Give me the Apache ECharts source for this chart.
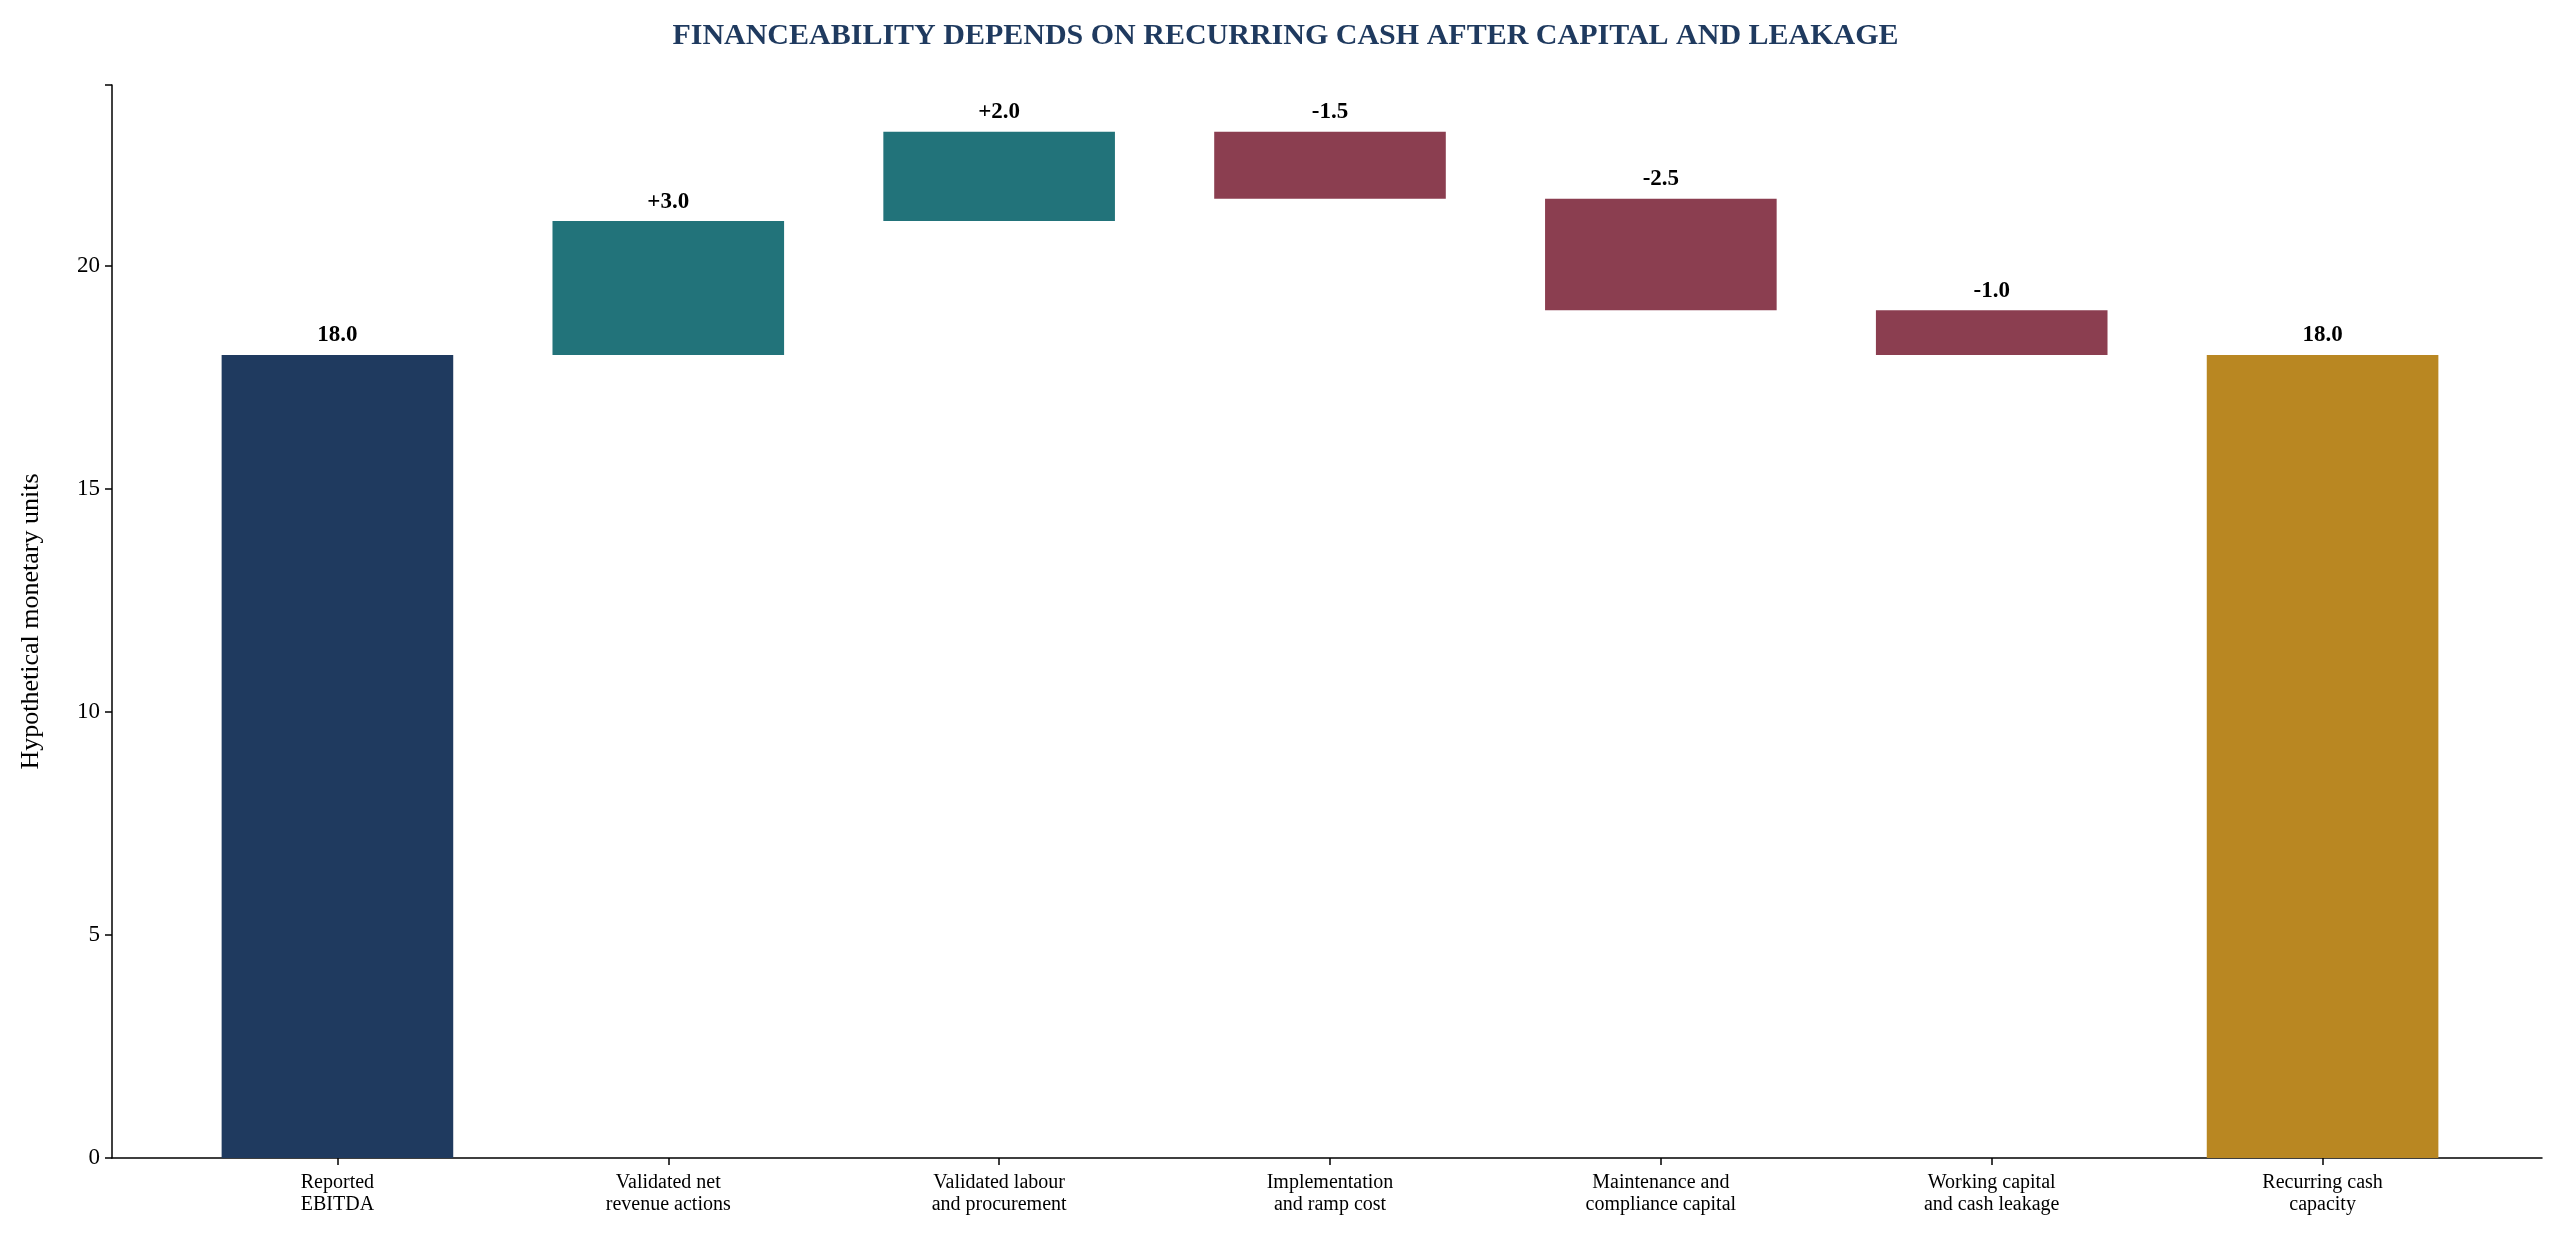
<!DOCTYPE html>
<html>
<head>
<meta charset="utf-8">
<script src="https://cdn.jsdelivr.net/npm/echarts@6/dist/echarts.min.js"></script>
<style>html,body{margin:0;padding:0;background:#fff}#main{width:2571px;height:1253px}</style>
</head>
<body>
<div id="main"></div>
<script>
var categories = ['Reported\nEBITDA', 'Validated net\nrevenue actions', 'Validated labour\nand procurement',
    'Implementation\nand ramp cost', 'Maintenance and\ncompliance capital', 'Working capital\nand cash leakage',
    'Recurring cash\ncapacity'];
var changes = [18, 3, 2, -1.5, -2.5, -1, 18];
var kinds = ['total', 'step', 'step', 'step', 'step', 'step', 'end'];
var colors = {total: '#1f3a5f', up: '#22737a', down: '#8b3e50', end: '#b98722'};

// build invisible base + visible bar
var base = [], bars = [], running = 0;
for (var i = 0; i < changes.length; i++) {
    var v = changes[i], k = kinds[i];
    var col, label;
    if (k === 'step') {
        var lo = v >= 0 ? running : running + v;
        base.push(lo);
        col = v >= 0 ? colors.up : colors.down;
        label = (v >= 0 ? '+' : '') + v.toFixed(1);
        running += v;
    } else {
        base.push(0);
        col = colors[k];
        label = v.toFixed(1);
        running = v;
    }
    bars.push({value: Math.abs(v), itemStyle: {color: col}, label: {formatter: label}});
}

var yMax = 24.05;
var chart = echarts.init(document.getElementById('main'));
chart.setOption({
    textStyle: {fontFamily: 'Liberation Serif'},
    title: {
        text: 'FINANCEABILITY DEPENDS ON RECURRING CASH AFTER CAPITAL AND LEAKAGE',
        left: 'center', top: 16,
        textStyle: {fontFamily: 'Liberation Serif', fontSize: 30, fontWeight: 'bold', color: '#1f3a5f'}
    },
    grid: [
        {left: 112, right: 29, top: 85, bottom: 95},   // axes frame
        {left: 172, right: 83, top: 85, bottom: 95}    // bars
    ],
    xAxis: [
        {type: 'value', gridIndex: 0, min: 0, max: 1,
            axisLine: {show: true, onZero: false, lineStyle: {color: '#000', width: 1.5}},
            axisTick: {show: false}, axisLabel: {show: false}, splitLine: {show: false}},
        {type: 'category', gridIndex: 1, data: categories,
            axisLine: {show: false},
            axisTick: {show: true, alignWithLabel: true, length: 7, lineStyle: {color: '#000', width: 1.5}},
            axisLabel: {color: '#000', fontSize: 20, lineHeight: 22, margin: 14, fontFamily: 'Liberation Serif'}}
    ],
    yAxis: [
        {type: 'value', gridIndex: 0, min: 0, max: yMax, interval: 5,
            name: 'Hypothetical monetary units', nameLocation: 'middle', nameGap: 68,
            nameTextStyle: {fontSize: 26, color: '#000', fontFamily: 'Liberation Serif'},
            splitLine: {show: false},
            axisLine: {show: true, lineStyle: {color: '#000', width: 1.5}},
            axisTick: {show: true, length: 7, lineStyle: {color: '#000', width: 1.5}},
            axisLabel: {color: '#000', fontSize: 23, margin: 12, fontFamily: 'Liberation Serif',
                formatter: function (v) { return v % 5 === 0 && v <= 20 ? v : ''; }}},
        {type: 'value', gridIndex: 1, min: 0, max: yMax, show: false}
    ],
    series: [
        {type: 'bar', stack: 'w', xAxisIndex: 1, yAxisIndex: 1, data: base, barWidth: '70%',
            itemStyle: {color: 'transparent'}, silent: true},
        {type: 'bar', stack: 'w', xAxisIndex: 1, yAxisIndex: 1, data: bars, barWidth: '70%',
            label: {show: true, position: 'top', distance: 8, color: '#000', fontSize: 23, fontWeight: 'bold',
                fontFamily: 'Liberation Serif'}}
    ]
});
</script>
</body>
</html>
